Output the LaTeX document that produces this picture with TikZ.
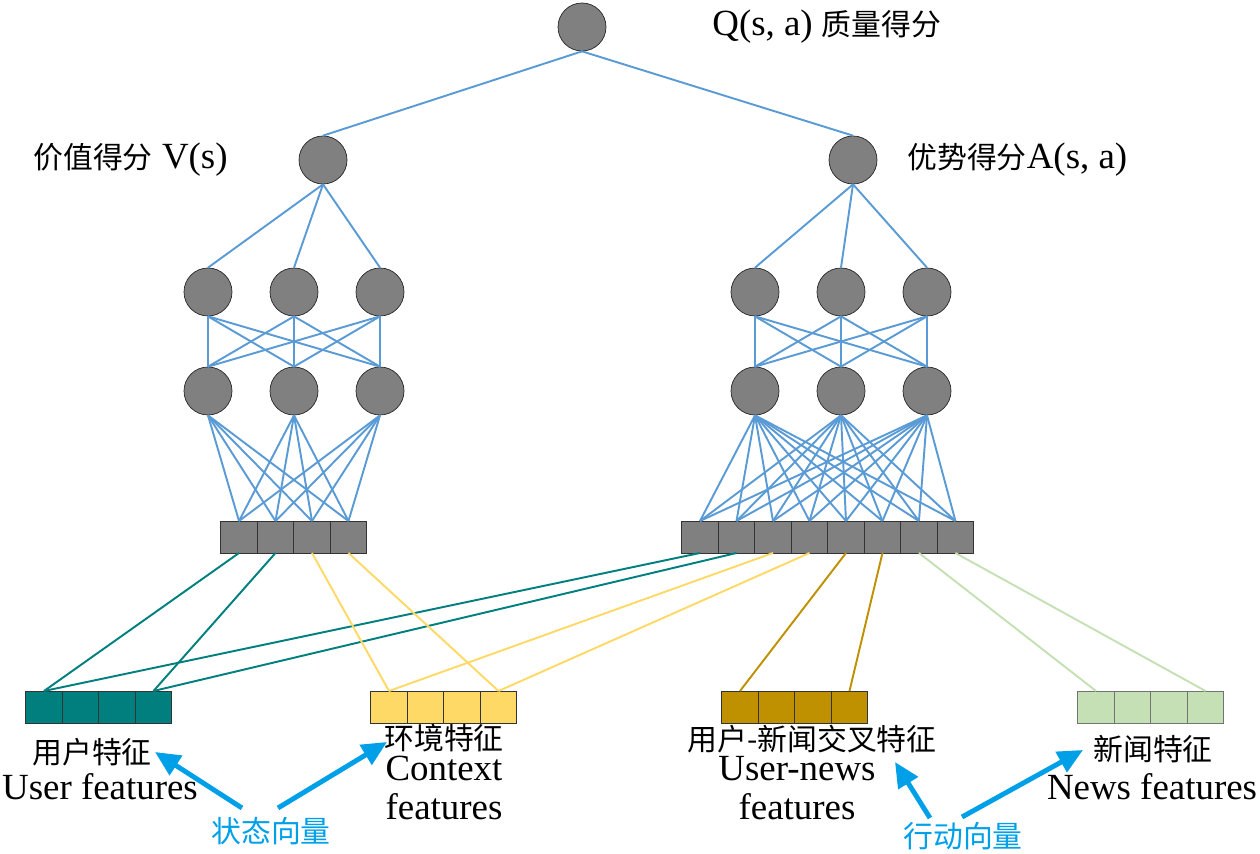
\documentclass[tikz,border=0pt]{standalone}
\usepackage{fontspec}
\setmainfont{Liberation Serif}
\newfontfamily\cjk{Noto Sans CJK SC}
\usetikzlibrary{arrows.meta, positioning}
\definecolor{linkblue}{HTML}{5B9BD5}
\definecolor{userteal}{HTML}{007F7F}
\definecolor{ctxyellow}{HTML}{FFD966}
\definecolor{crossgold}{HTML}{BF9000}
\definecolor{newsgreen}{HTML}{C5E0B4}
\definecolor{markblue}{HTML}{00A0E9}

\begin{document}
\begin{tikzpicture}[
  x=0.02cm, y=-0.02cm,
  node distance=0pt,
  neuron/.style={circle, minimum size=0.96cm, inner sep=0pt, draw=black!85, fill=black!50},
  cell/.style={rectangle, minimum width=0.73cm, minimum height=0.64cm, inner sep=0pt, outer sep=0pt, draw=black!80, fill=#1},
  link/.style={draw=linkblue, line width=1.1pt},
  feed/.style={draw=#1, line width=1.1pt},
  entxt/.style={inner sep=0pt, font=\fontsize{21}{24}\selectfont},
  cntxt/.style={inner sep=0pt, font=\cjk\fontsize{17}{20}\selectfont},
  marker/.style={draw=markblue, line width=2.8pt, -{Triangle[length=0.5cm,width=0.45cm]}}
]
  \useasboundingbox (0,0) rectangle (1260,854);

  % Neuronen
  \node (q) [neuron] at (582,27) {};
  \node (v) [neuron] at (323,160) {};
  \node (a) [neuron] at (853,160) {};
  \node (vh1) [neuron] at (208,292) {};
  \node (vh2) [neuron] at (294,292) {};
  \node (vh3) [neuron] at (380,292) {};
  \node (vg1) [neuron] at (208,391) {};
  \node (vg2) [neuron] at (294,391) {};
  \node (vg3) [neuron] at (380,391) {};
  \node (ah1) [neuron] at (755,292) {};
  \node (ah2) [neuron] at (841,292) {};
  \node (ah3) [neuron] at (927,292) {};
  \node (ag1) [neuron] at (755,391) {};
  \node (ag2) [neuron] at (841,391) {};
  \node (ag3) [neuron] at (927,391) {};

  % Merkmalsvektoren
  \node (lb1) [cell=black!50] at (239,537) {};
  \foreach \i [count=\j from 2] in {1,...,3}
    \node (lb\j) [cell=black!50, right=of lb\i] {};
  \node (rb1) [cell=black!50] at (700,537) {};
  \foreach \i [count=\j from 2] in {1,...,7}
    \node (rb\j) [cell=black!50, right=of rb\i] {};
  \node (ub1) [cell=userteal] at (44,707) {};
  \node (cb1) [cell=ctxyellow] at (389,707) {};
  \node (xb1) [cell=crossgold] at (740,707) {};
  \node (nb1) [cell=newsgreen, draw=black!55] at (1096,707) {};
  \foreach \i [count=\j from 2] in {1,...,3} {
    \node (ub\j) [cell=userteal, right=of ub\i] {};
    \node (cb\j) [cell=ctxyellow, right=of cb\i] {};
    \node (xb\j) [cell=crossgold, right=of xb\i] {};
    \node (nb\j) [cell=newsgreen, draw=black!55, right=of nb\i] {};
  }

  % Verbindungen
  \draw [link] (v.north) -- (q.south);
  \draw [link] (a.north) -- (q.south);
  \foreach \i in {1,2,3} {
    \draw [link] (vh\i.north) -- (v.south);
    \draw [link] (ah\i.north) -- (a.south);
    \foreach \j in {1,2,3} {
      \draw [link] (vh\i.south) -- (vg\j.north);
      \draw [link] (ah\i.south) -- (ag\j.north);
    }
    \foreach \j in {1,...,4}
      \draw [link] (vg\i.south) -- (lb\j.north);
    \foreach \j in {1,...,8}
      \draw [link] (ag\i.south) -- (rb\j.north);
  }

  \draw [feed=userteal] (ub1.north) -- (lb1.south);
  \draw [feed=userteal] (ub4.north) -- (lb2.south);
  \draw [feed=userteal] (ub1.north) -- (rb1.south);
  \draw [feed=userteal] (ub4.north) -- (rb2.south);
  \draw [feed=ctxyellow] (cb1.north) -- (lb3.south);
  \draw [feed=ctxyellow] (cb4.north) -- (lb4.south);
  \draw [feed=ctxyellow] (cb1.north) -- (rb3.south);
  \draw [feed=ctxyellow] (cb4.north) -- (rb4.south);
  \draw [feed=crossgold] (xb1.north) -- (rb5.south);
  \draw [feed=crossgold] (xb4.north) -- (rb6.south);
  \draw [feed=newsgreen] (nb1.north) -- (rb7.south);
  \draw [feed=newsgreen] (nb4.north) -- (rb8.south);

  % Beschriftungen
  \node (qtxt) [entxt, anchor=west] at (712,27) {Q(s, a) {\cjk\fontsize{17}{20}\selectfont 质量得分}};
  \node (vtxt) [entxt, anchor=east] at (228,160) {{\cjk\fontsize{17}{20}\selectfont 价值得分} V(s)};
  \node (atxt) [entxt, anchor=west] at (907,160) {{\cjk\fontsize{17}{20}\selectfont 优势得分}A(s, a)};

  \node (ucn) [cntxt] at (92,752) {用户特征};
  \node (uen) [entxt] at (100,787) {User features};
  \node (ccn) [cntxt] at (444,738) {环境特征};
  \node (cen1) [entxt] at (444,768) {Context};
  \node (cen2) [entxt] at (444,807) {features};
  \node (xcn) [cntxt] at (812,739) {用户-新闻交叉特征};
  \node (xen1) [entxt] at (797,769) {User-news};
  \node (xen2) [entxt] at (797,807) {features};
  \node (ncn) [cntxt] at (1153,749) {新闻特征};
  \node (nen) [entxt] at (1152,787) {News features};

  \node (state) [cntxt, text=markblue] at (271,831) {状态向量};
  \node (action) [cntxt, text=markblue] at (963,836) {行动向量};

  % Pfeile
  \coordinate (s1) at (242,808);
  \coordinate (s2) at (278,808);
  \coordinate (t1) at (155,752);
  \coordinate (t2) at (387,742);
  \coordinate (s3) at (930,818);
  \coordinate (s4) at (962,817);
  \coordinate (t3) at (895,762);
  \coordinate (t4) at (1083,750);
  \draw [marker] (s1) -- (t1);
  \draw [marker] (s2) -- (t2);
  \draw [marker] (s3) -- (t3);
  \draw [marker] (s4) -- (t4);

\end{tikzpicture}
\end{document}
